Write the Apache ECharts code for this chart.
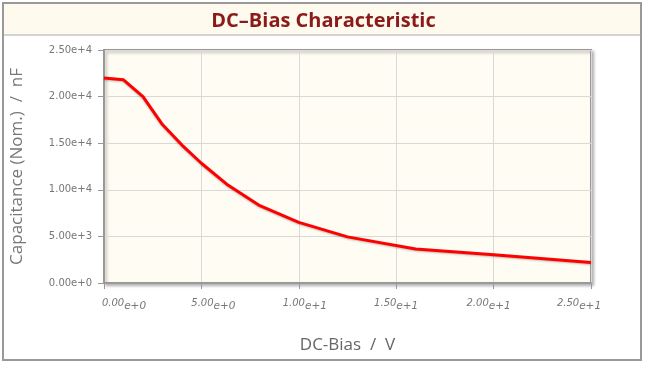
<!DOCTYPE html>
<html>
<head>
<meta charset="utf-8">
<script src="https://cdn.jsdelivr.net/npm/echarts@6/dist/echarts.min.js"></script>
<style>
html,body{margin:0;padding:0;background:#fff;}
#chart{width:647px;height:365px;}
</style>
</head>
<body>
<div id="chart"></div>
<script>
// Data
var biasVolts = [0, 1, 2, 3, 4, 5, 6.3, 8, 10, 12.5, 16, 20, 25];
var capacitanceNF = [22000, 21800, 20000, 17000, 14800, 12850, 10600, 8300, 6500, 4950, 3650, 3030, 2200];
var xTicks = [0, 5, 10, 15, 20, 25];
var yTicks = [0, 5000, 10000, 15000, 20000, 25000];
var titleText = 'DC\u2013Bias Characteristic';
var xName = 'DC-Bias  /  V';
var yName = 'Capacitance (Nom.)  /  nF';

var points = biasVolts.map(function (v, i) { return [v, capacitanceNF[i]]; });
var labelShift = [20, 12, 6, 0, -5, -12];

var rich = {};
labelShift.forEach(function (d, i) {
  rich['m' + i] = { fontStyle: 'italic', fontSize: 10, color: '#777', fontFamily: 'DejaVu Sans', verticalAlign: 'top', lineHeight: 12, padding: [0, 0, 0, d > 0 ? 2 * d : 0] };
  rich['e' + i] = { fontStyle: 'italic', fontSize: 10.5, color: '#777', fontFamily: 'DejaVu Sans', verticalAlign: 'top', lineHeight: 12, padding: [3, d < 0 ? -2 * d : 0, 0, 0] };
});

var chart = echarts.init(document.getElementById('chart'));
chart.setOption({
  animation: false,
  backgroundColor: '#fff',
  graphic: [
    { type: 'rect', shape: { x: 3, y: 3, width: 638, height: 357 }, style: { fill: '#fff', stroke: '#999', lineWidth: 2 }, z: -10 },
    { type: 'rect', shape: { x: 4, y: 4, width: 636, height: 31 }, style: { fill: '#fefaee', stroke: null }, z: -9 },
    { type: 'line', shape: { x1: 3, y1: 35, x2: 641, y2: 35 }, style: { stroke: '#aaa', lineWidth: 1 }, z: -8 }
  ],
  title: {
    text: titleText,
    left: 'center',
    top: 6,
    textStyle: { color: '#8b1a1a', fontSize: 20, fontWeight: 'bold', fontFamily: 'Open Sans' }
  },
  grid: {
    left: 104, top: 50, right: 56, bottom: 82,
    outerBoundsMode: 'none',
    containLabel: false,
    show: true,
    backgroundColor: '#fffcf3',
    borderColor: '#999',
    borderWidth: 2,
    shadowColor: 'rgba(0,0,0,0.25)',
    shadowBlur: 3,
    shadowOffsetX: 2,
    shadowOffsetY: 2
  },
  xAxis: {
    type: 'value',
    min: 0, max: 25, interval: 5,
    name: xName,
    nameLocation: 'middle',
    nameGap: 54,
    nameTextStyle: { color: '#666', fontSize: 17, fontFamily: 'Open Sans' },
    axisLine: { show: true, lineStyle: { color: '#999', width: 2 } },
    axisTick: { show: true, length: 6, lineStyle: { color: '#999' } },
    splitLine: { show: true, lineStyle: { color: '#d9d9d9', width: 1 } },
    axisLabel: {
      margin: 15,
      formatter: function (v, i) {
        var idx = xTicks.indexOf(v);
        var s = v.toExponential(2).split('e');
        return '{m' + idx + '|' + s[0] + '}{e' + idx + '|e' + s[1] + '}';
      },
      rich: rich
    }
  },
  yAxis: {
    type: 'value',
    min: 0, max: 25000, interval: 5000,
    name: yName,
    nameLocation: 'middle',
    nameGap: 78,
    nameTextStyle: { color: '#777', fontSize: 17, fontFamily: 'Open Sans' },
    axisLine: { show: true, lineStyle: { color: '#999', width: 2 } },
    axisTick: { show: true, length: 6, lineStyle: { color: '#999' } },
    splitLine: { show: true, lineStyle: { color: '#d9d9d9', width: 1 } },
    axisLabel: {
      margin: 12,
      color: '#777',
      fontSize: 10,
      fontFamily: 'DejaVu Sans',
      formatter: function (v) { return v.toExponential(2); }
    }
  },
  series: [{
    type: 'line',
    data: points,
    showSymbol: false,
    lineStyle: { color: '#ff0000', width: 3, shadowColor: 'rgba(0,0,0,0.25)', shadowBlur: 2, shadowOffsetY: 1 },
    itemStyle: { color: '#ff0000' }
  }]
});
</script>
</body>
</html>
